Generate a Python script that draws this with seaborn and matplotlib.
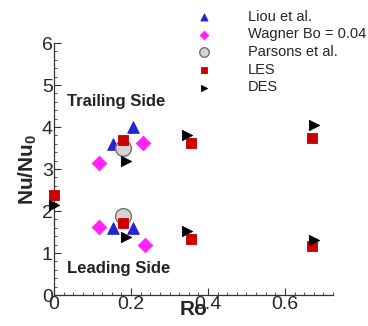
import matplotlib
matplotlib.use("Agg")
import matplotlib.pyplot as plt
from matplotlib.ticker import MultipleLocator
import seaborn as sns
import pandas as pd

sns.set_style("white")
plt.rcParams["font.family"] = ["Liberation Sans", "DejaVu Sans"]
plt.rcParams["mathtext.fontset"] = "custom"
plt.rcParams["mathtext.bf"] = "Liberation Sans:bold"
plt.rcParams["mathtext.rm"] = "Liberation Sans"

# Rotation number Ro and normalised Nusselt number for each source
liou_ro = [0.153, 0.205, 0.153, 0.205]
liou_nu = [3.60, 4.00, 1.60, 1.60]

wagner_ro = [0.117, 0.231, 0.117, 0.236]
wagner_nu = [3.15, 3.63, 1.63, 1.20]

parsons_ro = [0.18, 0.18]
parsons_nu = [3.50, 1.88]

les_ro = [0.0, 0.18, 0.355, 0.67, 0.18, 0.355, 0.67]
les_nu = [2.37, 3.69, 3.63, 3.75, 1.71, 1.34, 1.16]

des_ro = [0.0, 0.187, 0.345, 0.676, 0.187, 0.345, 0.676]
des_nu = [2.14, 3.20, 3.81, 4.05, 1.39, 1.53, 1.31]

series = [
    ("Liou et al.", liou_ro, liou_nu, dict(marker="^", color="#2424d0", edgecolor="#2424d0", s=70)),
    ("Wagner Bo = 0.04", wagner_ro, wagner_nu, dict(marker="D", color="#ff22ff", edgecolor="#ff22ff", s=55)),
    ("Parsons et al.", parsons_ro, parsons_nu, dict(marker="o", color="#d4d4d4", edgecolor="#707070", s=130, linewidth=1.0)),
    ("LES", les_ro, les_nu, dict(marker="s", color="#cc0000", edgecolor="#cc0000", s=60)),
    ("DES", des_ro, des_nu, dict(marker=">", color="black", edgecolor="black", s=55)),
]

fig = plt.figure(figsize=(3.68, 3.26), dpi=100)
ax = fig.add_axes([0.147, 0.095, 0.758, 0.773])

for name, ro, nu, style in series:
    df = pd.DataFrame({"Ro": ro, "Nu": nu})
    sns.scatterplot(data=df, x="Ro", y="Nu", ax=ax, label=name, zorder=3, clip_on=False, **style)

ax.set_xlim(0, 0.725)
ax.set_ylim(0, 6)
ax.xaxis.set_minor_locator(MultipleLocator(0.025))
ax.yaxis.set_minor_locator(MultipleLocator(0.2))
ax.set_xticks([0, 0.2, 0.4, 0.6])
ax.set_xticklabels(["0", "0.2", "0.4", "0.6"])
ax.set_yticks([0, 1, 2, 3, 4, 5, 6])
ax.set_yticklabels(["0", "1", "2", "3", "4", "5", "6"])

ax.tick_params(axis="both", which="both", direction="in", labelsize=14, color="#333333")
ax.tick_params(axis="both", which="major", length=5, width=0.8, pad=1)
ax.tick_params(axis="both", which="minor", length=2.5, width=0.6)
ax.tick_params(axis="x", which="both", top=False, bottom=True)
ax.tick_params(axis="y", which="both", left=True, right=False)

for side in ["top", "right"]:
    ax.spines[side].set_visible(False)
for side in ["left", "bottom"]:
    ax.spines[side].set_color("#333333")
    ax.spines[side].set_linewidth(0.9)

ax.set_xlabel("Ro", fontsize=15, fontweight="bold", labelpad=-10)
ax.set_ylabel(r"$\mathbf{Nu/Nu_0}$", fontsize=15, labelpad=2)

ax.text(0.033, 4.6, "Trailing Side", fontsize=12, fontweight="bold", color="#222222", va="center")
ax.text(0.033, 0.64, "Leading Side", fontsize=12, fontweight="bold", color="#222222", va="center")

leg = ax.legend(loc="upper left", bbox_to_anchor=(0.464, 1.155), frameon=False,
                fontsize=10.5, markerscale=0.6, handletextpad=2.0, labelspacing=0.25,
                borderaxespad=0)

fig.savefig("out.png", dpi=100, facecolor="white")
